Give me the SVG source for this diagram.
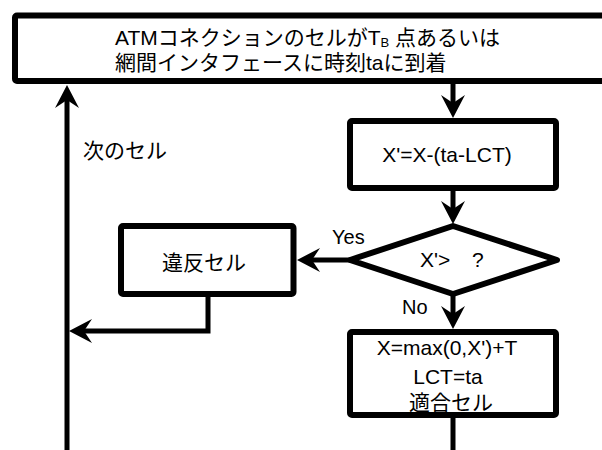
<svg xmlns="http://www.w3.org/2000/svg" width="602" height="450" viewBox="0 0 602 450">
<style>
.box{fill:#fff;stroke:#000;stroke-width:6;stroke-linejoin:round}
.ln{fill:none;stroke:#000;stroke-width:5;stroke-linejoin:miter}
.t{font-family:"Liberation Sans","Noto Sans CJK JP",sans-serif;font-size:21px;fill:#000}
.m{text-anchor:middle}
.s{font-size:20px}
</style>
<defs>
<marker id="ah" viewBox="-24 -13 26 26" refX="-10" refY="0" markerWidth="26" markerHeight="26" markerUnits="userSpaceOnUse" orient="auto">
<path d="M0,0 L-23,-12 L-15,0 L-23,12 Z" fill="#000"/>
</marker>
</defs>
<rect width="602" height="450" fill="#fff"/>
<g id="connectors">
<line class="ln" x1="67" y1="452" x2="67" y2="95" marker-end="url(#ah)"/>
<line class="ln" x1="453" y1="84" x2="453" y2="108" marker-end="url(#ah)"/>
<line class="ln" x1="453" y1="191" x2="453" y2="214" marker-end="url(#ah)"/>
<line class="ln" x1="350" y1="260" x2="307" y2="260" marker-end="url(#ah)"/>
<polyline class="ln" points="208,296 208,331 79,331" marker-end="url(#ah)"/>
<line class="ln" x1="453" y1="294" x2="453" y2="319" marker-end="url(#ah)"/>
<line class="ln" x1="453" y1="417" x2="453" y2="452"/>
<text class="t s" x="332" y="244">Yes</text>
<text class="t s" x="402" y="314">No</text>
<text class="t" x="83" y="158">次のセル</text>
</g>
<g id="arrival">
<rect class="box" x="15" y="15.5" width="600" height="65.5" rx="2"/>
<text class="t" x="115" y="45">ATMコネクションのセルがT<tspan font-size="13" dy="2">B</tspan><tspan dy="-2"> 点あるいは</tspan></text>
<text class="t" x="115" y="70">網間インタフェースに時刻taに到着</text>
</g>
<g id="update">
<rect class="box" x="350" y="121" width="206" height="67" rx="2"/>
<text class="t m" x="447" y="162">X'=X-(ta-LCT)</text>
</g>
<g id="decision">
<polygon class="box" points="453,226 557,260 453,294 350,260"/>
<text class="t"><tspan x="420" y="267">X'&gt;</tspan><tspan x="472" y="267">?</tspan></text>
</g>
<g id="violation">
<rect class="box" x="121" y="226" width="172.5" height="68" rx="2"/>
<text class="t m" x="204" y="270">違反セル</text>
</g>
<g id="conform">
<rect class="box" x="350" y="332" width="206" height="83" rx="2"/>
<text class="t m" x="447" y="355">X=max(0,X')+T</text>
<text class="t m" x="448" y="384">LCT=ta</text>
<text class="t m" x="451" y="410">適合セル</text>
</g>
</svg>
